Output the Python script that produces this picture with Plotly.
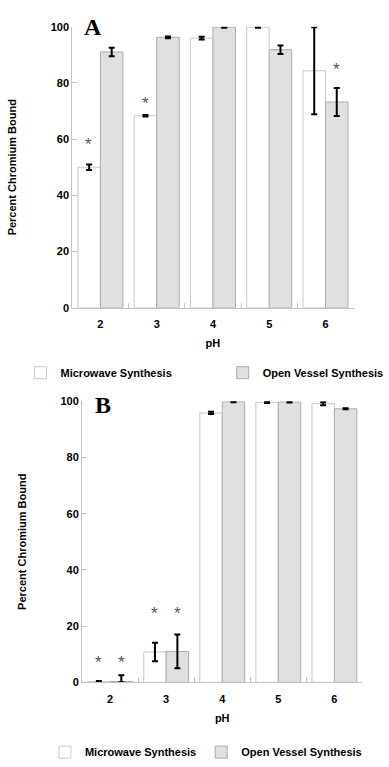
import plotly.graph_objects as go

# pH categories shared by both panels
ph = ["2", "3", "4", "5", "6"]

# Panel A: percent chromium bound (mean, +/- error)
a_microwave = [50.0, 68.3, 95.9, 99.8, 84.3]
a_microwave_err = [1.0, 0.3, 0.5, 0.2, 15.5]
a_open = [91.0, 96.2, 99.8, 91.8, 73.2]
a_open_err = [1.5, 0.3, 0.2, 1.5, 5.0]

# Panel B: percent chromium bound (mean, +/- error)
b_microwave = [0.2, 10.8, 95.8, 99.6, 99.1]
b_microwave_err = [0.3, 3.3, 0.4, 0.2, 0.5]
b_microwave_err_minus = [0.2, 3.3, 0.4, 0.2, 0.5]
b_open = [0.3, 11.0, 99.8, 99.7, 97.3]
b_open_err = [2.2, 6.0, 0.2, 0.2, 0.2]
b_open_err_minus = [0.3, 6.0, 0.2, 0.2, 0.2]

# Significance markers: (panel, pH, series, height)
sig_marks = [
    ("A", "2", "mw", 59.0),
    ("A", "3", "mw", 73.8),
    ("A", "6", "ov", 85.7),
    ("B", "2", "mw", 8.3),
    ("B", "2", "ov", 8.3),
    ("B", "3", "mw", 25.6),
    ("B", "3", "ov", 25.6),
]

W, H = 389, 767
FONT = "Liberation Sans, Arial, sans-serif"
AXIS_GRAY = "#c4c4c4"
MW_FILL, MW_LINE = "#ffffff", "#c8c8c8"
OV_FILL, OV_LINE = "#e0e0e0", "#ababab"

fig = go.Figure()


def add_bars(y_mw, e_mw, em_mw, y_ov, e_ov, em_ov, xa, ya, leg_mw, leg_ov):
    fig.add_trace(go.Bar(
        x=ph, y=y_mw, name="Microwave Synthesis", xaxis=xa, yaxis=ya,
        legend=leg_mw, cliponaxis=False,
        marker=dict(color=MW_FILL, line=dict(color=MW_LINE, width=1)),
        error_y=dict(type="data", array=e_mw, arrayminus=em_mw,
                     color="black", thickness=2, width=3),
    ))
    fig.add_trace(go.Bar(
        x=ph, y=y_ov, name="Open Vessel Synthesis", xaxis=xa, yaxis=ya,
        legend=leg_ov, cliponaxis=False,
        marker=dict(color=OV_FILL, line=dict(color=OV_LINE, width=1)),
        error_y=dict(type="data", array=e_ov, arrayminus=em_ov,
                     color="black", thickness=2, width=3),
    ))


add_bars(a_microwave, a_microwave_err, a_microwave_err, a_open, a_open_err,
         a_open_err, "x", "y", "legend", "legend3")
add_bars(b_microwave, b_microwave_err, b_microwave_err_minus, b_open,
         b_open_err, b_open_err_minus, "x2", "y2", "legend2", "legend4")

# asterisks above the flagged bars (category index on the x axis)
for panel, cat, series, h in sig_marks:
    suffix = "" if panel == "A" else "2"
    fig.add_annotation(
        x=ph.index(cat), y=h, xref="x" + suffix, yref="y" + suffix,
        text="*", showarrow=False,
        xshift=-11.5 if series == "mw" else 11.5, yshift=-3,
        font=dict(family=FONT, size=17, color="#555555"),
    )

# panel letters
for letter, xpos, ypos in (("A", 95, 21), ("B", 105, 406)):
    fig.add_annotation(
        x=xpos / W, y=1 - ypos / H, xref="paper", yref="paper",
        text="<b>%s</b>" % letter, showarrow=False,
        xanchor="center", yanchor="middle",
        font=dict(family="Liberation Serif, Times New Roman, serif",
                  size=24, color="black"),
    )

tickfont = dict(family=FONT, size=11, color="black", weight="bold")
titlefont = dict(family=FONT, size=11, color="black", weight="bold")

xcommon = dict(
    type="category", range=[-0.5, 4.5], autorange=False,
    showline=True, linecolor=AXIS_GRAY, linewidth=1,
    ticks="inside", tickson="boundaries", ticklen=5, tickcolor=AXIS_GRAY,
    tickfont=tickfont, ticklabelstandoff=6, showgrid=False, zeroline=False,
    title=dict(text="pH", font=titlefont, standoff=10),
)
ycommon = dict(
    range=[0, 100], tickvals=[0, 20, 40, 60, 80, 100], showline=True,
    linecolor=AXIS_GRAY, linewidth=1, ticks="inside", ticklen=5,
    tickcolor=AXIS_GRAY, tickfont=tickfont, showgrid=False, zeroline=False,
    title=dict(text="Percent Chromium Bound", font=titlefont, standoff=31),
)

legcommon = dict(
    orientation="h", xanchor="left", yanchor="middle",
    font=dict(family=FONT, size=11, color="black", weight="bold"),
    itemclick=False, itemdoubleclick=False,
    bgcolor="rgba(0,0,0,0)", tracegroupgap=0,
)

fig.update_layout(
    width=W, height=H, margin=dict(l=0, r=0, t=0, b=0),
    paper_bgcolor="white", plot_bgcolor="white",
    barmode="group", bargap=0.2, bargroupgap=0,
    showlegend=True,
    xaxis=dict(xcommon, domain=[74 / W, 362 / W], anchor="y"),
    yaxis=dict(ycommon, domain=[1 - 307 / H, 1 - 21 / H], anchor="x"),
    xaxis2=dict(xcommon, domain=[84 / W, 371 / W], anchor="y2"),
    yaxis2=dict(ycommon, domain=[1 - 688 / H, 1 - 402 / H], anchor="x2"),
    legend=dict(legcommon, x=21 / W, y=1 - 373 / H),
    legend3=dict(legcommon, x=228 / W, y=1 - 373 / H),
    legend2=dict(legcommon, x=46 / W, y=1 - 759 / H),
    legend4=dict(legcommon, x=206 / W, y=1 - 759 / H),
)

fig.write_html("out.html")
